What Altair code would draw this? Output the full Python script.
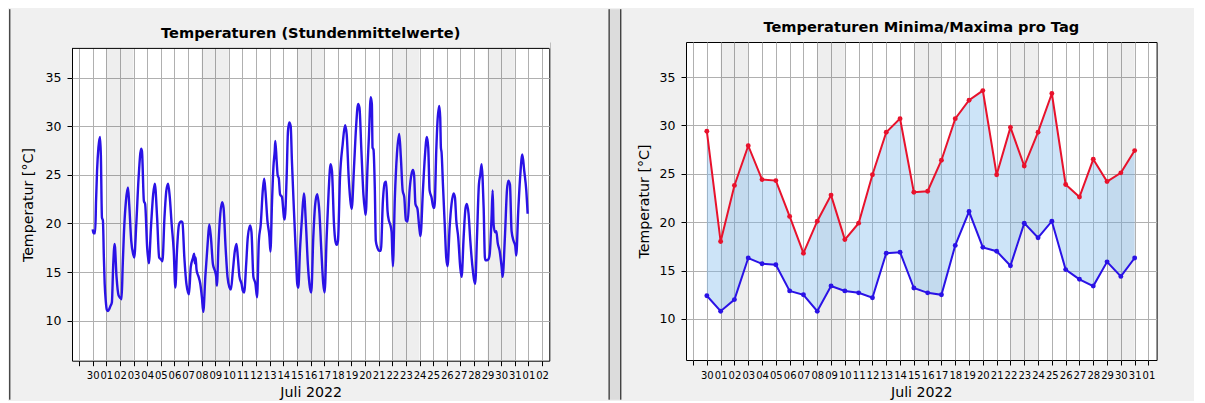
import json
import altair as alt
import pandas as pd

# ---------------- data ----------------
# hourly means: time in days (0 = tick "30"), value in degC
hour_t = [0.00, 0.06, 0.18, 0.25, 0.32, 0.42, 0.54, 0.60, 0.68, 0.75, 0.82, 0.88, 0.96, 1.04, 1.12, 1.22, 1.30, 1.41,
          1.50, 1.61, 1.75, 1.90, 2.05, 2.12, 2.20, 2.29, 2.44, 2.59, 2.68, 2.83, 2.98, 3.05, 3.20, 3.37, 3.56, 3.62,
          3.76, 3.85, 4.00, 4.12, 4.29, 4.44, 4.56, 4.73, 4.88, 5.02, 5.12, 5.27, 5.41, 5.54, 5.66, 5.80, 5.95, 6.07,
          6.19, 6.34, 6.49, 6.59, 6.73, 6.88, 7.07, 7.20, 7.37, 7.45, 7.50, 7.56, 7.62, 7.70, 7.78, 7.90, 8.02, 8.12,
          8.27, 8.44, 8.56, 8.68, 8.83, 8.98, 9.07, 9.12, 9.24, 9.37, 9.51, 9.61, 9.76, 9.90, 10.05, 10.15, 10.29,
          10.44, 10.56, 10.66, 10.78, 10.93, 11.02, 11.12, 11.27, 11.39, 11.56, 11.66, 11.80, 11.95, 12.07, 12.20,
          12.34, 12.49, 12.59, 12.68, 12.83, 12.98, 13.05, 13.17, 13.27, 13.37, 13.41, 13.51, 13.59, 13.66, 13.76,
          13.90, 14.05, 14.10, 14.24, 14.34, 14.44, 14.54, 14.63, 14.78, 14.93, 15.02, 15.10, 15.22, 15.37, 15.51,
          15.66, 15.80, 15.95, 16.05, 16.20, 16.34, 16.49, 16.64, 16.79, 16.93, 17.03, 17.18, 17.33, 17.47, 17.57,
          17.72, 17.82, 17.92, 18.01, 18.16, 18.36, 18.53, 18.65, 18.80, 18.95, 19.02, 19.19, 19.34, 19.49, 19.59,
          19.73, 19.88, 20.00, 20.05, 20.18, 20.28, 20.42, 20.50, 20.55, 20.62, 20.72, 20.79, 20.91, 21.01, 21.16,
          21.31, 21.45, 21.55, 21.65, 21.75, 21.85, 21.95, 22.04, 22.19, 22.34, 22.51, 22.63, 22.76, 22.88, 23.00,
          23.13, 23.27, 23.40, 23.52, 23.60, 23.70, 23.85, 23.98, 24.07, 24.25, 24.39, 24.54, 24.64, 24.74, 24.88,
          25.03, 25.10, 25.23, 25.32, 25.45, 25.52, 25.57, 25.62, 25.72, 25.86, 25.96, 26.06, 26.21, 26.35, 26.50,
          26.60, 26.70, 26.84, 26.99, 27.09, 27.24, 27.38, 27.48, 27.60, 27.73, 27.87, 28.02, 28.09, 28.22, 28.36,
          28.46, 28.56, 28.63, 28.71, 28.80, 28.85, 29.05, 29.15, 29.29, 29.37, 29.44, 29.54, 29.64, 29.74, 29.88,
          30.03, 30.10, 30.27, 30.42, 30.52, 30.64, 30.76, 30.91, 31.03, 31.10, 31.25, 31.40, 31.55, 31.69, 31.84,
          31.94]
hour_v = [19.4, 19.0, 19.0, 22.5, 25.4, 27.8, 28.9, 27.0, 20.6, 20.3, 16.5, 13.8, 12.0, 11.1, 11.0, 11.2, 11.5, 11.9,
          15.5, 17.9, 14.5, 12.6, 12.3, 12.2, 15.5, 18.9, 22.3, 23.7, 22.0, 18.2, 16.8, 16.5, 19.9, 24.7, 27.7, 27.4,
          22.3, 22.0, 17.5, 15.9, 19.9, 23.0, 24.1, 20.6, 16.5, 16.3, 16.1, 20.6, 23.4, 24.1, 22.7, 19.9, 17.2, 13.4,
          17.2, 19.9, 20.2, 20.1, 16.5, 13.8, 12.7, 15.5, 16.5, 16.9, 15.9, 16.5, 15.3, 14.8, 14.5, 13.8, 12.4, 10.9,
          14.5, 17.9, 19.9, 18.6, 15.8, 15.1, 14.5, 13.6, 17.9, 21.0, 22.2, 21.6, 17.5, 14.5, 13.4, 13.2, 15.1,
          17.2, 17.9, 16.5, 14.5, 13.8, 13.1, 12.9, 15.8, 18.6, 19.8, 19.1, 14.5, 13.8, 12.4, 18.2,
          19.9, 23.4, 24.6, 23.4, 20.3, 18.6, 17.1, 22.3, 25.8, 27.5, 28.5, 26.4, 24.9, 24.7, 23.0,
          22.7, 20.6, 20.4, 24.7, 29.5, 30.4, 30.0, 26.4, 21.3, 16.5, 13.8, 13.4, 17.2, 20.6, 23.1,
          19.9, 15.8, 13.4, 12.9, 18.6, 22.0, 23.0, 21.3, 17.2, 13.8, 12.9, 18.6, 23.4, 26.1, 25.4,
          19.9, 18.2, 17.8, 18.2, 24.7, 28.2, 30.1, 29.2, 24.7, 22.0, 21.5, 25.8, 29.9, 32.3, 31.9,
          27.5, 23.0, 21.3, 20.9, 25.8, 28.8, 33.0, 32.3, 27.8, 27.6, 23.4, 18.2, 17.5, 17.2, 17.2,
          22.3, 24.2, 24.3, 21.3, 20.3, 19.9, 19.1, 15.6, 22.7, 27.1, 29.2, 26.8, 23.4, 22.7, 20.3,
          20.2, 23.4, 25.0, 25.5, 25.0, 22.0, 21.5, 19.6, 18.7, 23.4, 26.8, 28.9, 27.8, 23.4, 22.7,
          21.6, 21.6, 27.5, 30.5, 32.1, 30.9, 27.8, 27.3, 24.0, 19.6, 16.5, 15.6, 19.6, 22.0, 23.1,
          22.7, 20.3, 18.6, 15.5, 14.5, 18.6, 21.6, 22.0, 21.0, 18.2, 15.8, 14.1, 13.8, 18.6, 24.0,
          25.0, 26.1, 24.7, 21.6, 16.5, 16.2, 16.3, 16.8, 20.6, 23.4, 19.9, 19.1, 19.2, 18.0, 17.2,
          15.5, 14.5, 18.6, 23.4, 24.4, 24.0, 19.2, 18.2, 17.7, 16.7, 21.3, 25.0, 27.1, 25.4, 23.4,
          21.0]

# daily minima / maxima: day index 0 = tick "30" ... 31 = tick "31"
day_idx = list(range(32))
day_max = [29.4, 18.0, 23.8, 27.9, 24.4, 24.3, 20.6, 16.8, 20.1, 22.8, 18.2, 19.9, 24.9, 29.3, 30.7, 23.1,
           23.2, 26.4, 30.7, 32.6, 33.6, 24.9, 29.8, 25.8, 29.3, 33.3, 23.9, 22.6, 26.5, 24.2, 25.1, 27.4]
day_min = [12.4, 10.8, 12.0, 16.3, 15.7, 15.6, 12.9, 12.5, 10.8, 13.4, 12.9, 12.7, 12.2, 16.8, 16.9, 13.2,
           12.7, 12.5, 17.6, 21.1, 17.4, 17.0, 15.5, 19.9, 18.4, 20.1, 15.1, 14.1, 13.4, 15.9, 14.4, 16.3]

# weekend bands (in day index units)
band_start = [1, 8, 15, 22, 29]
band_end = [3, 10, 17, 24, 31]

left_tick_values = list(range(-1, 34))
left_tick_labels = ["", "30", "01", "02", "03", "04", "05", "06", "07", "08", "09", "10", "11", "12", "13",
                    "14", "15", "16", "17", "18", "19", "20", "21", "22", "23", "24", "25", "26", "27", "28",
                    "29", "30", "31", "01", "02"]
right_tick_values = list(range(-1, 33))
right_tick_labels = ["", "30", "01", "02", "03", "04", "05", "06", "07", "08", "09", "10", "11", "12", "13",
                     "14", "15", "16", "17", "18", "19", "20", "21", "22", "23", "24", "25", "26", "27", "28",
                     "29", "30", "31", "01"]
y_tick_values = [10, 15, 20, 25, 30, 35]

title_left = "Temperaturen (Stundenmittelwerte)"
title_right = "Temperaturen Minima/Maxima pro Tag"
x_title = "Juli 2022"
y_title = "Temperatur [°C]"

# ---------------- styling ----------------
FONT = "DejaVu Sans"
BLUE = "#2a12e6"
RED = "#e8122c"
FILL = "#82bbed"
PANEL = "#f0f0f0"
W1, H1, TOP1 = 477.3, 318.7, 6.4
W2, H2 = 470.6, 318.0
BOTTOM = 357.7
VIEW = alt.ViewBackground(fill="white", stroke="#000", strokeWidth=1)

hour_df = pd.DataFrame({"t": hour_t, "v": hour_v})
day_df = pd.DataFrame({"t": day_idx, "tmax": day_max, "tmin": day_min})
band_df = pd.DataFrame({"t": band_start, "t2": band_end})
one = pd.DataFrame({"k": [0]})


def x_axis(values, labels, title_y):
    return alt.Axis(values=values, labelExpr=f"{json.dumps(labels)}[datum.value + 1]",
                    labelOverlap=False, labelFlush=False, labelFont=FONT, labelFontSize=10,
                    labelColor="#000", labelPadding=5, tickSize=5, tickColor="#000", tickWidth=1,
                    domain=False, grid=True, gridColor="#b0b0b0", gridWidth=1, gridOpacity=1,
                    title=x_title, titleFont=FONT, titleFontSize=14.2, titleFontWeight="normal",
                    titleColor="#000", titleBaseline="alphabetic", titleY=title_y)


def y_axis(title_x, title_y=None):
    kw = dict(values=y_tick_values, format="d", labelFont=FONT, labelFontSize=12.5, labelColor="#000",
              labelPadding=6, tickSize=5, tickColor="#000", tickWidth=1, domain=False, grid=True,
              gridColor="#b0b0b0", gridWidth=1, gridOpacity=1, title=y_title, titleFont=FONT,
              titleFontSize=14.2, titleFontWeight="normal", titleColor="#000", titleBaseline="middle",
              titleX=title_x)
    if title_y is not None:
        kw["titleY"] = title_y
    return alt.Axis(**kw)


# ---------------- left panel ----------------
xs1 = alt.Scale(domain=[-1.52, 33.53], nice=False, zero=False)
ys1 = alt.Scale(domain=[5.88, 38.67], nice=False, zero=False)
xa1 = x_axis(left_tick_values, left_tick_labels, 36.2)
ya1 = y_axis(-43.2, 162.6)

bands1 = alt.Chart(band_df).mark_rect(color="#000", opacity=0.065).encode(
    x=alt.X("t:Q", scale=xs1, axis=xa1), x2="t2:Q", y=alt.value(0), y2=alt.value(H1))
line1 = alt.Chart(hour_df).mark_line(color=BLUE, strokeWidth=2.4, interpolate="monotone").encode(
    x=alt.X("t:Q", scale=xs1, axis=xa1), y=alt.Y("v:Q", scale=ys1, axis=ya1))
cover1 = alt.Chart(one).mark_rect(color=PANEL).encode(
    x=alt.value(-1), x2=alt.value(W1 + 1), y=alt.value(-1), y2=alt.value(TOP1))
frame1 = alt.Chart(one).mark_rule(color="#000", strokeWidth=1).encode(
    x=alt.value(0), x2=alt.value(W1), y=alt.value(TOP1))
ttl1 = alt.Chart(one).mark_text(font=FONT, fontSize=14.6, fontWeight="bold", color="#000",
                                baseline="alphabetic", align="center").encode(
    x=alt.value(W1 / 2), y=alt.value(-4.0), text=alt.value(title_left))
border1 = alt.Chart(one).mark_rule(color="#000", strokeWidth=1).encode(
    x=alt.value(-62.2), y=alt.value(-32.8), y2=alt.value(BOTTOM))

left = alt.layer(bands1, line1, cover1, frame1, ttl1, border1).properties(width=W1, height=H1, view=VIEW)

# ---------------- right panel ----------------
xs2 = alt.Scale(domain=[-1.51, 32.59], nice=False, zero=False)
ys2 = alt.Scale(domain=[5.76, 38.62], nice=False, zero=False)
xa2 = x_axis(right_tick_values, right_tick_labels, 36.9)
ya2 = y_axis(-41.7)

bands2 = alt.Chart(band_df).mark_rect(color="#000", opacity=0.065).encode(
    x=alt.X("t:Q", scale=xs2, axis=xa2), x2="t2:Q", y=alt.value(0), y2=alt.value(H2))
area2 = alt.Chart(day_df).mark_area(color=FILL, opacity=0.4).encode(
    x=alt.X("t:Q", scale=xs2, axis=xa2), y=alt.Y("tmin:Q", scale=ys2, axis=ya2), y2="tmax:Q")
maxl = alt.Chart(day_df).mark_line(color=RED, strokeWidth=2,
                                   point=alt.OverlayMarkDef(color=RED, size=24, filled=True, opacity=1)).encode(
    x=alt.X("t:Q", scale=xs2, axis=xa2), y=alt.Y("tmax:Q", scale=ys2, axis=ya2))
minl = alt.Chart(day_df).mark_line(color=BLUE, strokeWidth=2,
                                   point=alt.OverlayMarkDef(color=BLUE, size=24, filled=True, opacity=1)).encode(
    x=alt.X("t:Q", scale=xs2, axis=xa2), y=alt.Y("tmin:Q", scale=ys2, axis=ya2))
ttl2 = alt.Chart(one).mark_text(font=FONT, fontSize=14.6, fontWeight="bold", color="#000",
                                baseline="alphabetic", align="center").encode(
    x=alt.value(W2 / 2), y=alt.value(-10.3), text=alt.value(title_right))
gap2 = alt.Chart(one).mark_rect(color="#dcdcdc").encode(
    x=alt.value(-76.9), x2=alt.value(-65.2), y=alt.value(-32.8), y2=alt.value(BOTTOM))
gapl = alt.Chart(one).mark_rule(color="#000", strokeWidth=1).encode(
    x=alt.value(-76.9), y=alt.value(-32.8), y2=alt.value(BOTTOM))
gapr = alt.Chart(one).mark_rule(color="#000", strokeWidth=1).encode(
    x=alt.value(-65.2), y=alt.value(-32.8), y2=alt.value(BOTTOM))
# panel background continues towards the right edge of the window
ext2 = alt.Chart(one).mark_rect(color=PANEL).encode(
    x=alt.value(W2 + 20), x2=alt.value(507), y=alt.value(0), y2=alt.value(20))

right = alt.layer(bands2, area2, maxl, minl, ttl2, gap2, gapl, gapr, ext2).properties(
    width=W2, height=H2, view=VIEW)

chart = alt.hconcat(left, right, spacing=57).properties(
    padding=0, background=PANEL
).configure(font=FONT)

chart.save("out.html", embed_options={"renderer": "svg", "actions": False})
